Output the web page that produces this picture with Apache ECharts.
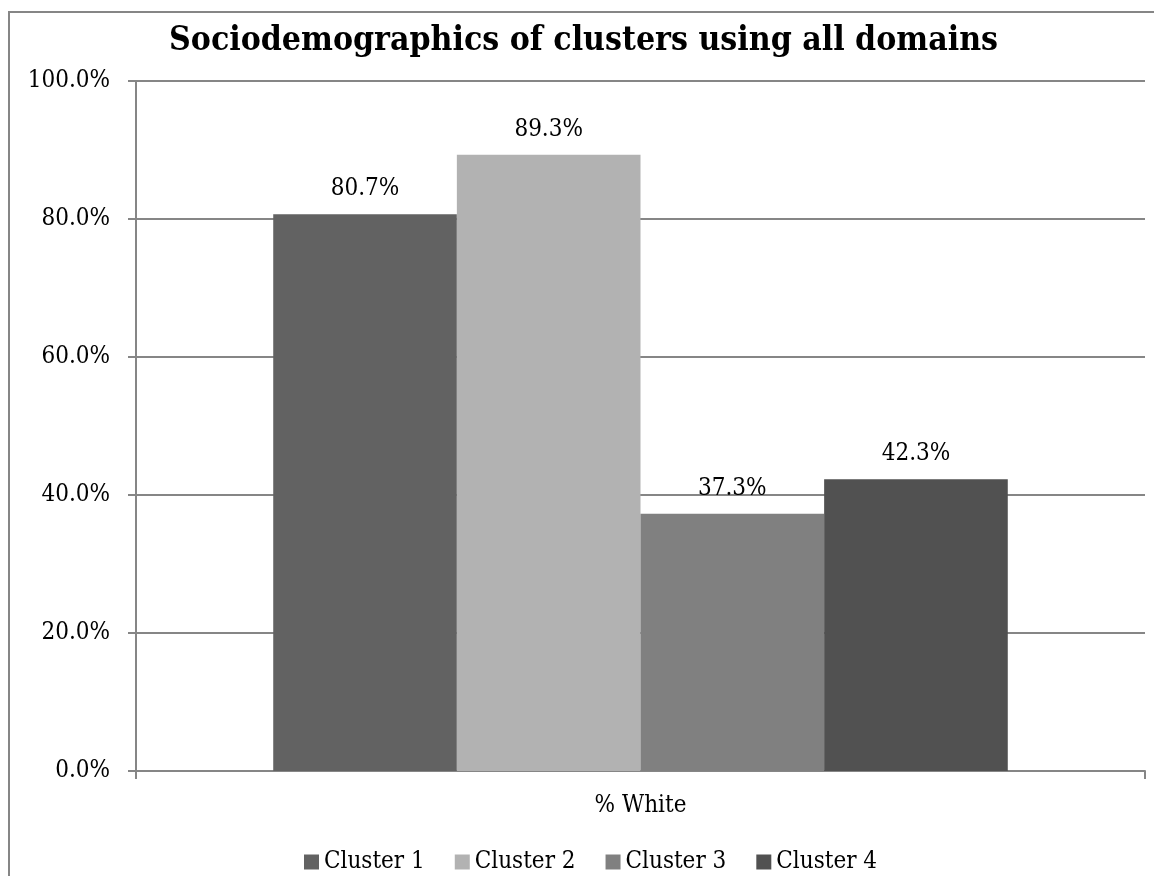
<!DOCTYPE html>
<html>
<head>
<meta charset="utf-8">
<script src="https://cdn.jsdelivr.net/npm/echarts@6/dist/echarts.min.js"></script>
<style>
  html, body { margin: 0; padding: 0; background: #fff; }
  #chart { width: 1154px; height: 876px; }
</style>
</head>
<body>
<div id="chart"></div>
<script>
var categories = ['% White']
var seriesNames = ['Cluster 1', 'Cluster 2', 'Cluster 3', 'Cluster 4']
var seriesValues = [[80.7], [89.3], [37.3], [42.3]]
var seriesColors = ['#626262', '#b2b2b2', '#808080', '#515151']

var font = '"DejaVu Serif Condensed", "Liberation Serif", serif'
var myChart = echarts.init(document.getElementById('chart'))

var option = {
  animation: false,
  title: {
    text: 'Sociodemographics of clusters using all domains',
    left: 164,
    top: 19,
    textStyle: { fontFamily: font, fontWeight: 'bold', fontSize: 33.5, color: '#000' }
  },
  graphic: [{
    type: 'rect',
    shape: { x: 9, y: 12, width: 1160, height: 880 },
    style: { fill: 'none', stroke: '#868686', lineWidth: 2 },
    silent: true
  }],
  legend: {
    top: 845,
    left: 299,
    itemWidth: 15,
    itemHeight: 15,
    itemGap: 30,
    icon: 'rect',
    textStyle: { fontFamily: font, fontSize: 24, color: '#000' },
    data: seriesNames
  },
  grid: { left: 136, right: 9, top: 81, bottom: 105, containLabel: false },
  xAxis: {
    type: 'category',
    data: categories,
    axisLine: { lineStyle: { color: '#868686', width: 2 } },
    axisTick: { show: true, length: 8, lineStyle: { color: '#868686', width: 2 } },
    axisLabel: { fontFamily: font, fontSize: 24, color: '#000', margin: 23 }
  },
  yAxis: {
    type: 'value',
    min: 0,
    max: 100,
    interval: 20,
    axisLine: { show: true, lineStyle: { color: '#868686', width: 2 } },
    axisTick: { show: true, length: 8, lineStyle: { color: '#868686', width: 2 } },
    splitLine: { lineStyle: { color: '#868686', width: 2 } },
    axisLabel: {
      fontFamily: font, fontSize: 24, color: '#000', margin: 26,
      formatter: function (v) { return v.toFixed(1) + '%' }
    }
  },
  series: seriesNames.map(function (name, i) {
    return {
      name: name,
      type: 'bar',
      data: seriesValues[i],
      barGap: '0%',
      barCategoryGap: '27.2%',
      itemStyle: { color: seriesColors[i] },
      label: {
        show: true,
        position: 'top',
        distance: 13,
        fontFamily: font,
        fontSize: 24,
        color: '#000',
        formatter: function (p) { return p.value.toFixed(1) + '%' }
      }
    }
  })
}
option && myChart.setOption(option)
</script>
</body>
</html>
